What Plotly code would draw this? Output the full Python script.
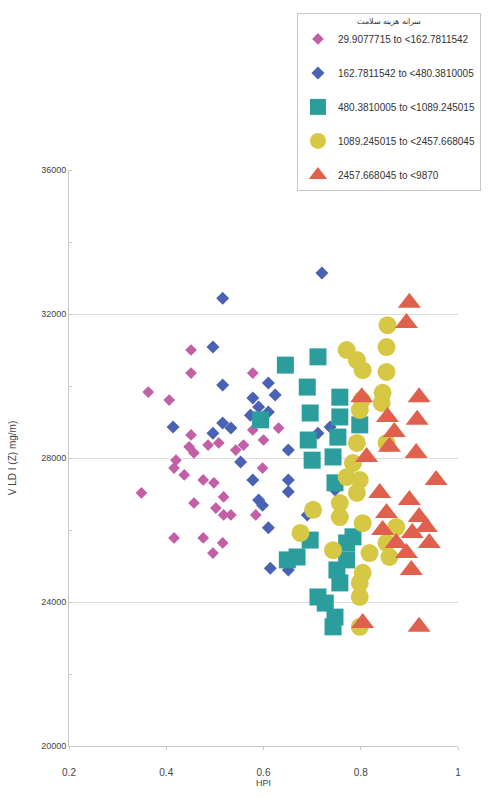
import plotly.graph_objects as go

# Per-capita health expenditure classes (legend labels)
class_labels = [
    "29.9077715 to <162.7811542",
    "162.7811542 to <480.3810005",
    "480.3810005 to <1089.245015",
    "1089.245015 to <2457.668045",
    "2457.668045 to <9870",
]

# Class 1
x1 = [0.451, 0.451, 0.363, 0.406, 0.578, 0.451, 0.447, 0.457, 0.486, 0.508, 0.543,
      0.559, 0.420, 0.416, 0.437, 0.476, 0.498, 0.518, 0.349, 0.457, 0.502, 0.518,
      0.533, 0.584, 0.598, 0.600, 0.631, 0.578, 0.416, 0.476, 0.516, 0.496]
y1 = [31000, 30360, 29830, 29610, 30360, 28640, 28310, 28140, 28360, 28420, 28220,
      28360, 27940, 27720, 27530, 27390, 27310, 26920, 27030, 26750, 26610, 26420,
      26420, 26420, 27720, 28500, 28830, 28780, 25780, 25780, 25640, 25360]

# Class 2
x2 = [0.720, 0.516, 0.496, 0.516, 0.610, 0.624, 0.578, 0.590, 0.610, 0.573, 0.414,
      0.516, 0.533, 0.496, 0.553, 0.651, 0.578, 0.651, 0.651, 0.590, 0.598, 0.610,
      0.614, 0.712, 0.690, 0.651, 0.747, 0.737]
y2 = [33140, 32440, 31080, 30030, 30080, 29750, 29670, 29420, 29280, 29190, 28860,
      28970, 28830, 28690, 27890, 28220, 27390, 27390, 27060, 26830, 26690, 26060,
      24940, 28690, 26420, 24890, 27110, 28860]

# Class 3
x3 = [0.645, 0.712, 0.690, 0.696, 0.692, 0.700, 0.757, 0.757, 0.753, 0.743, 0.747,
      0.798, 0.594, 0.669, 0.649, 0.696, 0.771, 0.771, 0.751, 0.757, 0.712, 0.727,
      0.747, 0.743, 0.784]
y3 = [30580, 30810, 29970, 29250, 28500, 27940, 29690, 29140, 28580, 28030, 27310,
      28920, 29060, 25250, 25170, 25720, 25640, 25170, 24890, 24530, 24140, 23970,
      23580, 23310, 25810]

# Class 4
x4 = [0.855, 0.771, 0.792, 0.804, 0.853, 0.853, 0.845, 0.843, 0.802, 0.798, 0.853,
      0.792, 0.784, 0.771, 0.798, 0.792, 0.757, 0.757, 0.702, 0.676, 0.804, 0.873,
      0.853, 0.818, 0.859, 0.743, 0.804, 0.798, 0.798, 0.798]
y4 = [31690, 31000, 30720, 30440, 31080, 30390, 29810, 29530, 29610, 29330, 28420,
      28420, 27860, 27470, 27390, 27030, 26750, 26360, 26560, 25920, 26190, 26080,
      25640, 25360, 25250, 25440, 24810, 24530, 24140, 23310]

# Class 5
x5 = [0.900, 0.894, 0.802, 0.855, 0.869, 0.920, 0.916, 0.859, 0.812, 0.914, 0.955,
      0.839, 0.900, 0.853, 0.920, 0.935, 0.845, 0.906, 0.941, 0.894, 0.904, 0.804,
      0.920, 0.873]
y5 = [32310, 31750, 29690, 29140, 28720, 29690, 29060, 28310, 28030, 28140, 27390,
      27030, 26830, 26470, 26360, 26080, 26000, 25920, 25640, 25360, 24890, 23420,
      23310, 25640]

x_ticks = [0.2, 0.4, 0.6, 0.8, 1]
x_tick_text = ["0.2", "0.4", "0.6", "0.8", "1"]
y_ticks = [20000, 24000, 28000, 32000, 36000]
y_tick_text = ["20000", "24000", "28000", "32000", "36000"]

series = [
    (x1, y1, "diamond", 9, "#c25fa6"),
    (x2, y2, "diamond", 10, "#4a62b4"),
    (x3, y3, "square", 17, "#2a9d9c"),
    (x4, y4, "circle", 18, "#d6c845"),
    (x5, y5, "triangle-up", 20, "#e0604e"),
]

fig = go.Figure()
for i, ((xs, ys, sym, sz, col), name) in enumerate(zip(series, class_labels)):
    fig.add_trace(go.Scatter(
        x=xs, y=ys, mode="markers", name=name, legendgroup=f"g{i}",
        marker=dict(symbol=sym, size=sz, color=col, line=dict(width=0)),
    ))

axis_font = dict(family="Liberation Sans", size=9, color="#444")

fig.update_layout(
    width=499, height=804,
    margin=dict(l=67, r=41, t=170, b=58),
    paper_bgcolor="white", plot_bgcolor="white",
    font=dict(family="Liberation Sans", size=9, color="#333"),
    showlegend=True,
    legend=dict(
        x=0.586, y=1.2726, xanchor="left", yanchor="top",
        bgcolor="white", bordercolor="#c8c8c8", borderwidth=1,
        font=dict(family="Liberation Sans", size=10, color="#333"),
        title=dict(text="سرانه هزینه سلامت", side="top center",
                   font=dict(family="Noto Sans", size=8, color="#333")),
        itemsizing="trace", tracegroupgap=15,
    ),
    xaxis=dict(
        range=[0.2, 1], tickvals=x_ticks, ticktext=x_tick_text,
        showgrid=False, zeroline=False,
        showline=True, linecolor="#c8c8c8", linewidth=1,
        ticks="outside", ticklen=3, tickcolor="#c8c8c8",
        ticklabelstandoff=14,
        tickfont=dict(family="Liberation Sans", size=10, color="#444"),
        title=dict(text="HPI", font=dict(family="Liberation Sans", size=9, color="#444"),
                   standoff=2),
    ),
    yaxis=dict(
        range=[20000, 36000], tickvals=y_ticks, ticktext=y_tick_text,
        showgrid=True, gridcolor="#dcdcdc", gridwidth=1, zeroline=False,
        showline=True, linecolor="#c8c8c8", linewidth=1,
        ticks="", tickfont=axis_font,
        minor=dict(dtick=2000, ticks="inside", ticklen=3, tickcolor="#c8c8c8",
                   showgrid=False),
        title=dict(text="V LD I (Z) mg/m)", font=dict(family="Liberation Sans", size=10, color="#444"),
                   standoff=22),
    ),
)

fig.write_html("out.html")
